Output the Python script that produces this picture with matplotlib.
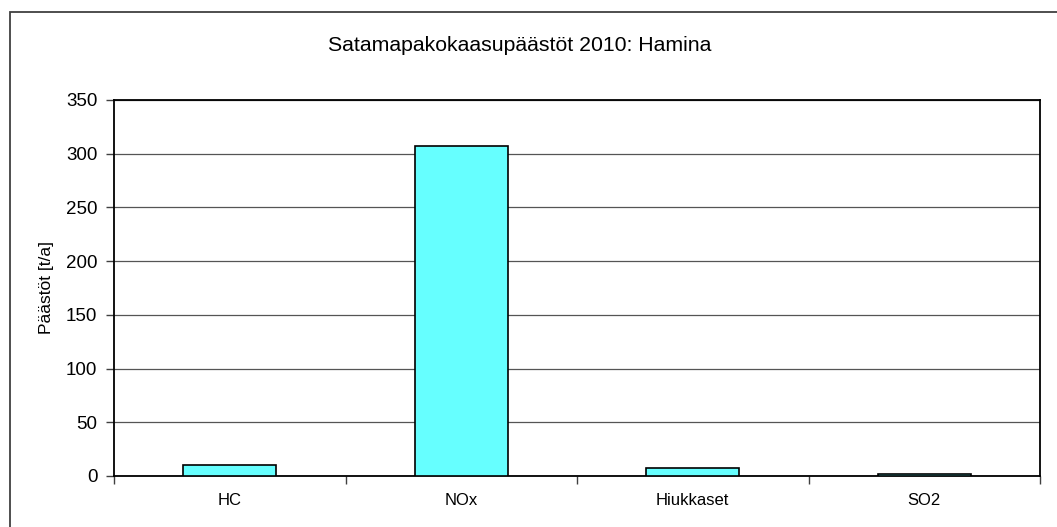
import numpy as np
import matplotlib.pyplot as plt
from matplotlib.patches import Rectangle

plt.rcParams['font.family'] = ['Liberation Sans', 'DejaVu Sans']

# emissions per pollutant, t/a
categories = ['HC', 'NOx', 'Hiukkaset', 'SO2']
values = [10, 307, 7, 1.5]

fig = plt.figure(figsize=(10.57, 5.27), dpi=100)
ax = fig.add_axes([114/1057, 51/527, 926/1057, 376/527])

# outer chart frame
fig.patches.append(Rectangle((10/1057, -0.1), 1.2, 1.1 - 12/527,
                             transform=fig.transFigure, fill=False,
                             edgecolor='#404040', linewidth=1.3))

x = np.arange(len(categories))
ax.bar(x, values, width=0.4, color='#66ffff', edgecolor='black', linewidth=1.2, zorder=3)

ax.set_xlim(-0.5, len(categories) - 0.5)
ax.set_ylim(0, 350)
ax.set_yticks(np.arange(0, 351, 50))
ax.yaxis.grid(True, color='#555555', linewidth=0.9)
ax.set_axisbelow(True)

ax.set_xticks(x)
ax.set_xticklabels(categories, fontsize=12)
ax.tick_params(axis='x', length=0, pad=12)
ax.set_xticks(np.arange(-0.5, len(categories), 1), minor=True)
ax.tick_params(axis='x', which='minor', length=6, width=1, color='#404040', direction='out')
ax.tick_params(axis='y', labelsize=13.5, length=6, width=1, color='#404040', direction='out', pad=6)

for s in ax.spines.values():
    s.set_linewidth(1.3)
    s.set_color('black')

ax.set_ylabel('Päästöt [t/a]', fontsize=12.5)
ax.yaxis.set_label_coords(-0.065, 0.5)
fig.text(520/1057, 1 - 45/527, 'Satamapakokaasupäästöt 2010: Hamina',
         fontsize=15.3, ha='center', va='center')

fig.savefig('out.png', dpi=100)
